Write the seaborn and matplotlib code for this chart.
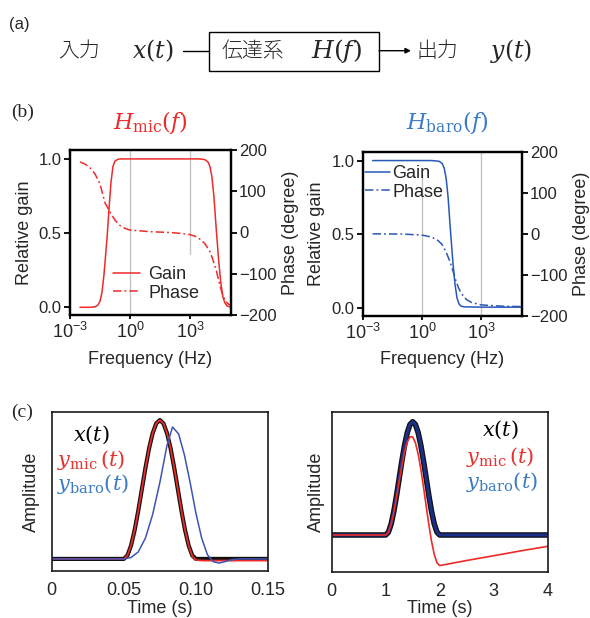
import numpy as np
import matplotlib
matplotlib.use('Agg')
import matplotlib.pyplot as plt
import seaborn as sns
from matplotlib.patches import Rectangle, FancyArrowPatch
from matplotlib.lines import Line2D
from matplotlib.ticker import NullLocator, FixedLocator

sns.set_style('ticks')
plt.rcParams['font.family'] = ['Liberation Sans', 'Noto Sans CJK JP', 'DejaVu Sans']
plt.rcParams['mathtext.fontset'] = 'custom'
plt.rcParams['mathtext.rm'] = 'Liberation Sans'
plt.rcParams['mathtext.it'] = 'Liberation Sans:italic'
plt.rcParams['mathtext.bf'] = 'Liberation Sans:bold'
plt.rcParams['axes.unicode_minus'] = True

# ---------------- data ----------------
# (b) microphone: log10 frequency exponents and values
mic_gain_exp = [-2.5, -2.0, -1.75, -1.6, -1.5, -1.4, -1.3, -1.2, -1.13, -1.05, -0.95, -0.85,
                -0.75, -0.6, -0.4, 3.5, 3.75, 3.9, 4.0, 4.1, 4.2, 4.3, 4.35, 4.45, 4.55,
                4.65, 4.75, 4.85, 5.0]
mic_gain = [0.0, 0.0, 0.003, 0.015, 0.04, 0.1, 0.22, 0.38, 0.5, 0.66, 0.84, 0.95,
            0.985, 0.998, 1.0, 1.0, 0.995, 0.98, 0.95, 0.88, 0.75, 0.56, 0.47, 0.3, 0.16,
            0.07, 0.03, 0.01, 0.003]
mic_phase_exp = [-2.5, -2.25, -2.0, -1.75, -1.5, -1.25, -1.0, -0.75, -0.5, -0.25, 0.0, 0.5,
                 1.0, 1.5, 2.0, 2.5, 3.0, 3.25, 3.5, 3.75, 4.0, 4.15, 4.33, 4.45, 4.58,
                 4.7, 4.85, 5.0]
mic_phase = [171, 166, 157, 142, 118, 72, 50, 30, 17, 10, 6, 4,
             2, 1, 0, -2, -5, -9, -16, -27, -46, -66, -94, -118, -142,
             -158, -170, -176]

# (b) barometer
baro_gain_exp = [-2.5, 0.5, 0.87, 1.02, 1.12, 1.22, 1.32, 1.42, 1.47, 1.57, 1.67, 1.77,
                 1.87, 1.97, 2.12, 3.0, 5.0]
baro_gain = [1.0, 1.0, 0.995, 0.98, 0.95, 0.88, 0.75, 0.56, 0.47, 0.3, 0.16, 0.07,
             0.03, 0.015, 0.01, 0.008, 0.008]
baro_phase_exp = [-2.5, -1.0, 0.0, 0.5, 0.8, 1.0, 1.2, 1.4, 1.55, 1.7, 1.85, 2.0,
                  2.25, 2.5, 3.0, 4.0, 5.0]
baro_phase = [0, -0.5, -3, -8, -16, -25, -42, -66, -88, -112, -132, -146,
              -160, -167, -173, -176, -177]

# (c) short pulse (s)
t_short = [0.0, 0.05, 0.0525, 0.055, 0.0575, 0.06, 0.0625, 0.065, 0.0675, 0.07, 0.0725,
           0.075, 0.0775, 0.08, 0.0825, 0.085, 0.0875, 0.09, 0.0925, 0.095, 0.0975, 0.1, 0.15]
x_short = [0.0, 0.0, 0.0245, 0.0955, 0.2061, 0.3455, 0.5, 0.6545, 0.7939, 0.9045, 0.9755,
           1.0, 0.9755, 0.9045, 0.7939, 0.6545, 0.5, 0.3455, 0.2061, 0.0955, 0.0245, 0.0, 0.0]
t_short_mic = [0.0, 0.05, 0.0525, 0.055, 0.0575, 0.06, 0.0625, 0.065, 0.0675, 0.07, 0.0725,
               0.075, 0.0775, 0.08, 0.0825, 0.085, 0.0875, 0.09, 0.0925, 0.095, 0.0975, 0.1,
               0.105, 0.15]
mic_short = [0.0, 0.0, 0.0245, 0.0955, 0.2061, 0.3455, 0.5, 0.6545, 0.7939, 0.9045, 0.9755,
             1.0, 0.9755, 0.9045, 0.7939, 0.6545, 0.5, 0.3455, 0.2061, 0.0955, 0.02, -0.008,
             -0.012, -0.012]
t_short_baro = [0.0, 0.05, 0.055, 0.06, 0.065, 0.07, 0.075, 0.08, 0.0838, 0.088, 0.092,
                0.096, 0.1, 0.104, 0.108, 0.112, 0.116, 0.12, 0.125, 0.13, 0.15]
baro_short = [0.0, 0.0, 0.01, 0.05, 0.15, 0.32, 0.55, 0.82, 0.95, 0.9, 0.75,
              0.55, 0.33, 0.15, 0.03, -0.02, -0.03, -0.02, -0.005, 0.0, 0.0]

# (c) long pulse (s)
t_long = [0.0, 1.0, 1.05, 1.1, 1.15, 1.2, 1.25, 1.3, 1.35, 1.4, 1.45, 1.5, 1.55, 1.6,
          1.65, 1.7, 1.75, 1.8, 1.85, 1.9, 1.95, 2.0, 4.0]
x_long = [0.0, 0.0, 0.0245, 0.0955, 0.2061, 0.3455, 0.5, 0.6545, 0.7939, 0.9045, 0.9755,
          1.0, 0.9755, 0.9045, 0.7939, 0.6545, 0.5, 0.3455, 0.2061, 0.0955, 0.0245, 0.0, 0.0]
baro_long = [0.0, 0.0, 0.0245, 0.0955, 0.2061, 0.3455, 0.5, 0.6545, 0.7939, 0.9045, 0.9755,
             1.0, 0.9755, 0.9045, 0.7939, 0.6545, 0.5, 0.3455, 0.2061, 0.0955, 0.0245, 0.0, 0.0]
t_long_mic = [0.0, 1.0, 1.05, 1.1, 1.15, 1.2, 1.25, 1.3, 1.35, 1.4, 1.45, 1.5, 1.55, 1.6,
              1.65, 1.7, 1.75, 1.8, 1.85, 1.9, 1.95, 2.0, 2.5, 3.0, 3.5, 4.0]
mic_long = [0.0, 0.0, 0.024, 0.094, 0.2, 0.332, 0.476, 0.614, 0.734, 0.822, 0.867, 0.865,
            0.814, 0.717, 0.583, 0.424, 0.254, 0.088, -0.058, -0.173, -0.246, -0.27,
            -0.225, -0.183, -0.14, -0.10]

freq_ticks = [1e-3, 1e0, 1e3]
gain_ticks = [0.0, 0.5, 1.0]
phase_ticks = [-200, -100, 0, 100, 200]
short_ticks = [0, 0.05, 0.10, 0.15]
short_labels = ['0', '0.05', '0.10', '0.15']
long_ticks = [0, 1, 2, 3, 4]

RED = '#ee2a2a'
RED_T = '#e8302e'
BLUE_T = '#3b7bc3'
BLUE_L = '#2858b8'
BLUE_C = '#3b55b5'
NAVY = '#1c2f88'
GRID = '#c4c4c4'

W, H = 590, 618
fig = plt.figure(figsize=(5.9, 6.18), dpi=100)


def fx(px):
    return px / W


def fy(py):
    return 1 - py / H


def rect(l, t, r, b):
    return [fx(l), fy(b), (r - l) / W, (b - t) / H]


MATH = 'dejavuserif'

# ---------------- (a) ----------------
fig.text(fx(9), fy(24), '(a)', ha='left', va='center', fontsize=12, family=['Liberation Sans'])
fig.text(fx(79), fy(51), '入力', ha='center', va='center', fontsize=15,
         family=['Noto Sans CJK JP'], fontweight='light')
fig.text(fx(153), fy(51), '$x(t)$', ha='center', va='center', fontsize=17, math_fontfamily=MATH)
fig.add_artist(Line2D([fx(183), fx(209)], [fy(50.7), fy(50.7)], transform=fig.transFigure,
                      color='black', lw=1))
fig.add_artist(Rectangle((fx(209), fy(71.3)), fx(379) - fx(209), fy(32) - fy(71.3),
                         transform=fig.transFigure, fill=False, lw=1, ec='black'))
fig.text(fx(252.5), fy(51), '伝達系', ha='center', va='center', fontsize=15,
         family=['Noto Sans CJK JP'], fontweight='light')
fig.text(fx(336), fy(51), '$H(f)$', ha='center', va='center', fontsize=18, math_fontfamily=MATH)
fig.add_artist(FancyArrowPatch((fx(379), fy(50.7)), (fx(411), fy(50.7)), transform=fig.transFigure,
                               arrowstyle='-|>', mutation_scale=8, lw=1, color='black',
                               shrinkA=0, shrinkB=0))
fig.text(fx(437), fy(51), '出力', ha='center', va='center', fontsize=15,
         family=['Noto Sans CJK JP'], fontweight='light')
fig.text(fx(511), fy(51), '$y(t)$', ha='center', va='center', fontsize=17, math_fontfamily=MATH)

# ---------------- (b) ----------------
fig.text(fx(11), fy(112), '(b)', ha='left', va='center', fontsize=14, family=['Liberation Serif'])


def bode(rect_, g_exp, g, p_exp, p, col, title, title_xy, vfull, vpart, vpart_ext,
         leg_anchor, leg_pad, ylab_l, ylab_r):
    ax = fig.add_axes(rect_)
    ax2 = ax.twinx()
    fg = 10.0 ** np.array(g_exp)
    fp = 10.0 ** np.array(p_exp)
    ax.axvline(vfull, color=GRID, lw=1.0, zorder=0)
    ax.axvline(vpart, ymin=vpart_ext[0], ymax=vpart_ext[1], color=GRID, lw=1.0, zorder=0)
    sns.lineplot(x=fg, y=g, ax=ax, color=col, lw=1.1, legend=False)
    lg = ax.lines[-1]
    sns.lineplot(x=fp, y=p, ax=ax2, color=col, lw=1.1, legend=False,
                 linestyle=(0, (5.5, 2, 1.2, 2)))
    lp = ax2.lines[-1]
    ax.set_xscale('log')
    ax.set_xlim(1e-3, 1.1e5)
    ax.xaxis.set_major_locator(FixedLocator(freq_ticks))
    ax.xaxis.set_minor_locator(NullLocator())
    ax.set_ylim(-0.052, 1.06)
    ax.set_yticks(gain_ticks)
    ax.set_yticklabels(['0.0', '0.5', '1.0'])
    ax2.set_ylim(-200, 200)
    ax2.set_yticks(phase_ticks)
    for a in (ax, ax2):
        a.tick_params(labelsize=12, length=4, width=1.3, pad=2, color='black')
        for s in a.spines.values():
            s.set_linewidth(1.6)
            s.set_color('black')
    ax.tick_params(axis='x', labelsize=13, length=3, pad=2)
    ax.set_xlabel('Frequency (Hz)', fontsize=13)
    ax.set_ylabel('Relative gain', fontsize=13)
    ax2.set_ylabel('Phase (degree)', fontsize=13)
    w_px = rect_[2] * W
    h_px = rect_[3] * H
    l_px = rect_[0] * W
    b_px = (1 - rect_[1]) * H
    ax.xaxis.set_label_coords(0.5, (b_px - 351) / h_px)
    ax.yaxis.set_label_coords((ylab_l - l_px) / w_px, 0.5)
    ax2.yaxis.set_label_coords((ylab_r - l_px) / w_px, 0.5)
    ax.grid(False)
    ax2.grid(False)
    ax2.legend([lg, lp], ['Gain', 'Phase'], loc='upper left', bbox_to_anchor=leg_anchor,
               frameon=False, fontsize=13, borderpad=0, borderaxespad=0,
               handlelength=leg_pad[0], handletextpad=leg_pad[1], labelspacing=0.1)
    fig.text(fx(title_xy[0]), fy(title_xy[1]), title, ha='center', va='center', fontsize=16,
             color=col if col != BLUE_L else BLUE_T, math_fontfamily=MATH)
    return ax, ax2


bode(rect(70, 150, 230.7, 315), mic_gain_exp, mic_gain, mic_phase_exp, mic_phase, RED,
     r'$H_{\mathrm{mic}}(f)$', (150, 122), 1e0, 1e3, (0.37, 1.0),
     ((113 - 70) / 160.7, (315 - 266) / 165), (1.5, 0.45), 33, 282)
bode(rect(362.7, 151.7, 521.7, 316), baro_gain_exp, baro_gain, baro_phase_exp, baro_phase,
     BLUE_L, r'$H_{\mathrm{baro}}(f)$', (447, 123), 1e3, 1e0, (0.0, 0.867),
     ((365 - 362.7) / 159, (316 - 165) / 164.3), (1.4, 0.1), 325, 573)

# ---------------- (c) ----------------
fig.text(fx(11), fy(412), '(c)', ha='left', va='center', fontsize=14, family=['Liberation Serif'])


def style_c(ax, ticks, labels, xlim, ylim, ylab_r):
    ax.set_xlim(*xlim)
    ax.set_ylim(*ylim)
    ax.set_xticks(ticks)
    ax.set_xticklabels(labels)
    ax.set_yticks([])
    ax.tick_params(axis='x', length=0, labelsize=13, pad=8)
    for s in ax.spines.values():
        s.set_linewidth(1.2)
        s.set_color('#1a1a1a')
    ax.set_xlabel('Time (s)', fontsize=13)
    ax.set_ylabel('Amplitude', fontsize=13)
    w_px = ax.get_position().width * W
    l_px = ax.get_position().x0 * W
    h_px = ax.get_position().height * H
    ax.xaxis.set_label_coords(0.5, -(600 - (1 - ax.get_position().y0) * H) / h_px)
    ax.yaxis.set_label_coords((ylab_r - l_px) / w_px, 0.5)
    ax.grid(False)


axc1 = fig.add_axes(rect(51.7, 411.7, 268, 571))
sns.lineplot(x=t_short, y=x_short, ax=axc1, color='#111111', lw=3.0, legend=False)
sns.lineplot(x=t_short_mic, y=mic_short, ax=axc1, color=RED, lw=1.3, legend=False)
sns.lineplot(x=t_short_baro, y=baro_short, ax=axc1, color=BLUE_C, lw=1.1, legend=False)
style_c(axc1, short_ticks, short_labels, (0, 0.15), (-0.087, 1.06), 40)

axc2 = fig.add_axes(rect(331.7, 412.3, 547.7, 571.7))
sns.lineplot(x=t_long, y=x_long, ax=axc2, color='#111111', lw=4.0, legend=False)
sns.lineplot(x=t_long, y=baro_long, ax=axc2, color=NAVY, lw=2.2, legend=False)
sns.lineplot(x=t_long_mic, y=mic_long, ax=axc2, color=RED, lw=1.2, legend=False)
style_c(axc2, long_ticks, [str(v) for v in long_ticks], (0, 4), (-0.324, 1.083), 325)

# legend-like labels in (c)
for (cx, ys) in ((91, (435, 460, 484)), (500, (430, 457, 482))):
    fig.text(fx(cx), fy(ys[0]), '$x(t)$', ha='center', va='center', fontsize=15,
             color='black', math_fontfamily=MATH)
    fig.text(fx(cx), fy(ys[1]), r'$y_{\mathrm{mic}}\,(t)$', ha='center', va='center', fontsize=15,
             color=RED_T, math_fontfamily=MATH)
    fig.text(fx(cx + 2), fy(ys[2]), r'$y_{\mathrm{baro}}(t)$', ha='center', va='center', fontsize=15,
             color=BLUE_T, math_fontfamily=MATH)

fig.savefig('out.png', dpi=100)
